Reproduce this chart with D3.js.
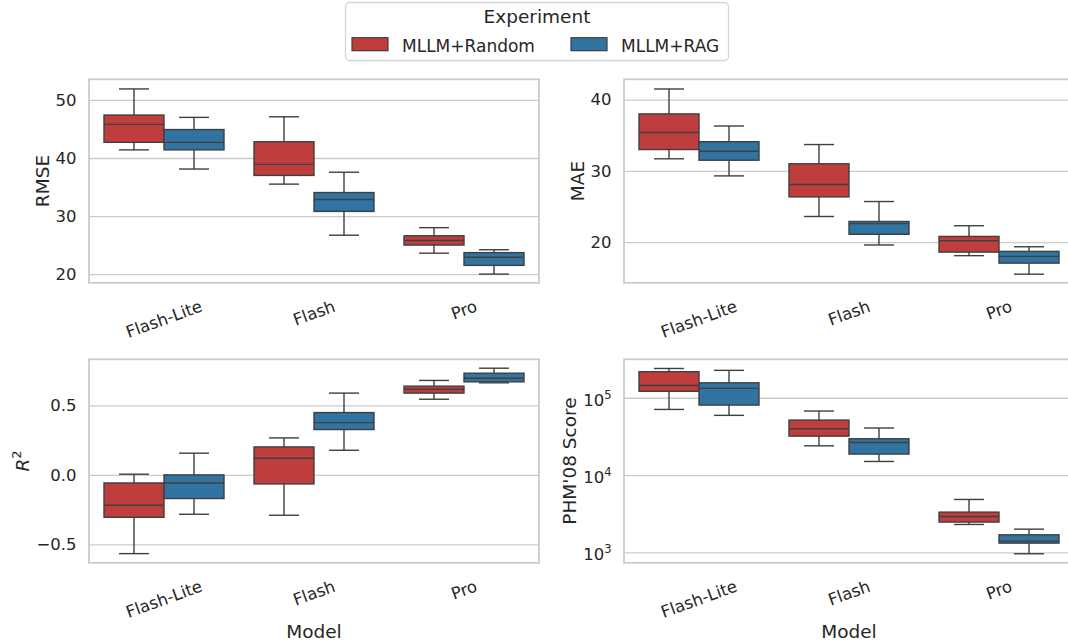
<!DOCTYPE html>
<html>
<head>
<meta charset="utf-8">
<script src="https://cdn.jsdelivr.net/npm/d3@7"></script>
<style>
  body { margin: 0; background: #fff; }
  text { font-family: "DejaVu Sans", sans-serif; fill: #262626; }
</style>
</head>
<body>
<div class="chart"></div>
<script>
// Box plot summary per model: [low whisker, Q1, median, Q3, high whisker]
var models = ["Flash-Lite", "Flash", "Pro"];
var experiments = ["MLLM+Random", "MLLM+RAG"];

var rmseRandom = [[41.4, 42.7, 45.8, 47.4, 51.9], [35.5, 37.0, 38.9, 42.8, 47.1], [23.6, 25.0, 25.8, 26.6, 28.0]];
var rmseRag    = [[38.1, 41.4, 42.7, 44.9, 47.0], [26.7, 30.8, 32.85, 34.05, 37.55], [20.0, 21.5, 22.9, 23.7, 24.2]];

var maeRandom = [[31.7, 33.0, 35.4, 38.0, 41.5], [23.6, 26.35, 28.1, 31.0, 33.7], [18.1, 18.6, 20.2, 20.8, 22.3]];
var maeRag    = [[29.3, 31.5, 32.75, 34.1, 36.3], [19.6, 21.1, 22.6, 22.9, 25.7], [15.5, 17.05, 18.0, 18.7, 19.35]];

var r2Random = [[-0.566, -0.305, -0.218, -0.058, 0.005], [-0.29, -0.065, 0.12, 0.201, 0.266], [0.544, 0.588, 0.616, 0.638, 0.679]];
var r2Rag    = [[-0.283, -0.170, -0.058, 0.0, 0.156], [0.177, 0.326, 0.376, 0.448, 0.588], [0.662, 0.669, 0.695, 0.731, 0.767]];

var phmRandom = [[70600, 121000, 144000, 217000, 239000], [23900, 31900, 39700, 51400, 67300], [2300, 2470, 2920, 3320, 4840]];
var phmRag    = [[59200, 80400, 132000, 156000, 226000], [15000, 18700, 26400, 29500, 40600], [961, 1320, 1400, 1690, 2000]];

var rmseTicks = [20, 30, 40, 50];
var maeTicks = [20, 30, 40];
var r2Ticks = [-0.5, 0, 0.5];
var phmTicks = [1e3, 1e4, 1e5];

var colors = ["#c03d3e", "#3274a1"];
var lineColor = "#3f3f3f";
var gridColor = "#cccccc";

var svgWidth = 1068, svgHeight = 642;
var panelW = 450, panelH = 203.5;
var colX = [89, 624];
var rowY = [79.3, 359.3];

var svg = d3.select(".chart").append("svg")
  .attr("width", svgWidth)
  .attr("height", svgHeight);

var panels = [
  { series: [rmseRandom, rmseRag], label: "RMSE", ticks: rmseTicks, domain: [18.5, 53.56], log: false, col: 0, row: 0, fmt: d3.format("d") },
  { series: [maeRandom, maeRag], label: "MAE", ticks: maeTicks, domain: [14.29, 42.86], log: false, col: 1, row: 0, fmt: d3.format("d") },
  { series: [r2Random, r2Rag], label: "R2", ticks: r2Ticks, domain: [-0.632, 0.831], log: false, col: 0, row: 1, fmt: d3.format(".1f") },
  { series: [phmRandom, phmRag], label: "PHM'08 Score", ticks: phmTicks, domain: [Math.pow(10, 2.866), Math.pow(10, 5.497)], log: true, col: 1, row: 1 }
];

var x = d3.scaleBand().domain(models).range([0, panelW]);
var xInner = d3.scaleBand().domain(experiments).range([x.bandwidth() * 0.1, x.bandwidth() * 0.9]);

panels.forEach(function(p) {
  var g = svg.append("g")
    .attr("transform", `translate(${colX[p.col]}, ${rowY[p.row]})`);

  var y = (p.log ? d3.scaleLog() : d3.scaleLinear())
    .domain(p.domain)
    .range([panelH, 0]);

  // grid + y tick labels
  var yAxis = d3.axisLeft(y)
    .tickValues(p.ticks)
    .tickSize(-panelW)
    .tickPadding(12.5);
  if (!p.log) yAxis.tickFormat(p.fmt);

  var yg = g.append("g").call(yAxis);
  yg.select(".domain").remove();
  yg.selectAll(".tick line").attr("stroke", gridColor).attr("stroke-width", 1.3);
  yg.selectAll(".tick text")
    .attr("font-size", 16.5)
    .attr("fill", "#262626")
    .attr("font-family", "DejaVu Sans");

  if (p.log) {
    yg.selectAll(".tick text").each(function(d) {
      var t = d3.select(this).text(null).attr("dy", "0.45em");
      t.append("tspan").text("10");
      t.append("tspan").attr("dy", -7).attr("font-size", 11.5).text(Math.round(Math.log10(d)));
    });
  }

  // x tick labels, rotated 20 degrees
  var xg = g.append("g")
    .attr("transform", `translate(0, ${panelH})`)
    .call(d3.axisBottom(x).tickSize(0));
  xg.select(".domain").remove();
  xg.selectAll(".tick text")
    .attr("font-size", 16.5)
    .attr("font-family", "DejaVu Sans")
    .attr("fill", "#262626")
    .attr("text-anchor", "middle")
    .attr("y", 0)
    .attr("dy", "0.35em")
    .each(function() {
      var w = this.getComputedTextLength();
      var a = 20 * Math.PI / 180;
      var yc = 17 + (w * Math.sin(a) + 12 * Math.cos(a)) / 2;
      d3.select(this).attr("transform", `translate(0, ${yc}) rotate(-20)`);
    });

  // boxes
  p.series.forEach(function(ser, e) {
    var exp = experiments[e];
    ser.forEach(function(s, m) {
      var bx = x(models[m]) + xInner(exp);
      var bw = xInner.bandwidth();
      var cx = bx + bw / 2;
      var box = g.append("g");

      // whiskers
      box.append("line")
        .attr("x1", cx).attr("x2", cx)
        .attr("y1", y(s[3])).attr("y2", y(s[4]))
        .attr("stroke", lineColor).attr("stroke-width", 1.4);
      box.append("line")
        .attr("x1", cx).attr("x2", cx)
        .attr("y1", y(s[1])).attr("y2", y(s[0]))
        .attr("stroke", lineColor).attr("stroke-width", 1.4);
      // caps
      [s[0], s[4]].forEach(function(v) {
        box.append("line")
          .attr("x1", cx - bw / 4).attr("x2", cx + bw / 4)
          .attr("y1", y(v)).attr("y2", y(v))
          .attr("stroke", lineColor).attr("stroke-width", 1.4);
      });

      box.append("rect")
        .attr("x", bx)
        .attr("y", y(s[3]))
        .attr("width", bw)
        .attr("height", y(s[1]) - y(s[3]))
        .attr("fill", colors[e])
        .attr("stroke", lineColor)
        .attr("stroke-width", 1.4);

      box.append("line")
        .attr("x1", bx).attr("x2", bx + bw)
        .attr("y1", y(s[2])).attr("y2", y(s[2]))
        .attr("stroke", lineColor).attr("stroke-width", 1.4);
    });
  });

  // frame
  g.append("rect")
    .attr("width", panelW)
    .attr("height", panelH)
    .attr("fill", "none")
    .attr("stroke", gridColor)
    .attr("stroke-width", 1.8);

  // y label
  var tb = yg.node().getBBox();
  var lx = tb.x - 7;
  var ylab = g.append("text")
    .attr("transform", `translate(${lx}, ${panelH / 2}) rotate(-90)`)
    .attr("text-anchor", "middle")
    .attr("font-size", 18.5);
  if (p.label === "R2") {
    ylab.append("tspan").attr("font-style", "italic").text("R");
    ylab.append("tspan").attr("dy", -8).attr("font-size", 13).text("2");
  } else {
    ylab.text(p.label);
  }

  // x label on bottom row
  if (p.row === 1) {
    g.append("text")
      .attr("x", panelW / 2)
      .attr("y", 638 - rowY[1])
      .attr("text-anchor", "middle")
      .attr("font-size", 18.5)
      .text("Model");
  }
});

// Legend
var legend = svg.append("g");
legend.append("rect")
  .attr("x", 345.5).attr("y", 2.5)
  .attr("width", 383).attr("height", 58)
  .attr("rx", 4)
  .attr("fill", "#fff")
  .attr("stroke", "#d6d6d6")
  .attr("stroke-width", 1.3);

legend.append("text")
  .attr("x", 537).attr("y", 22.7)
  .attr("text-anchor", "middle")
  .attr("font-size", 18.5)
  .text("Experiment");

var legX = [352, 571];
experiments.forEach(function(name, i) {
  legend.append("rect")
    .attr("x", legX[i]).attr("y", 37.7)
    .attr("width", 36).attr("height", 13)
    .attr("fill", colors[i])
    .attr("stroke", lineColor)
    .attr("stroke-width", 1.2);
  legend.append("text")
    .attr("x", legX[i] + 50).attr("y", 51.5)
    .attr("font-size", 17)
    .text(name);
});
</script>
</body>
</html>
